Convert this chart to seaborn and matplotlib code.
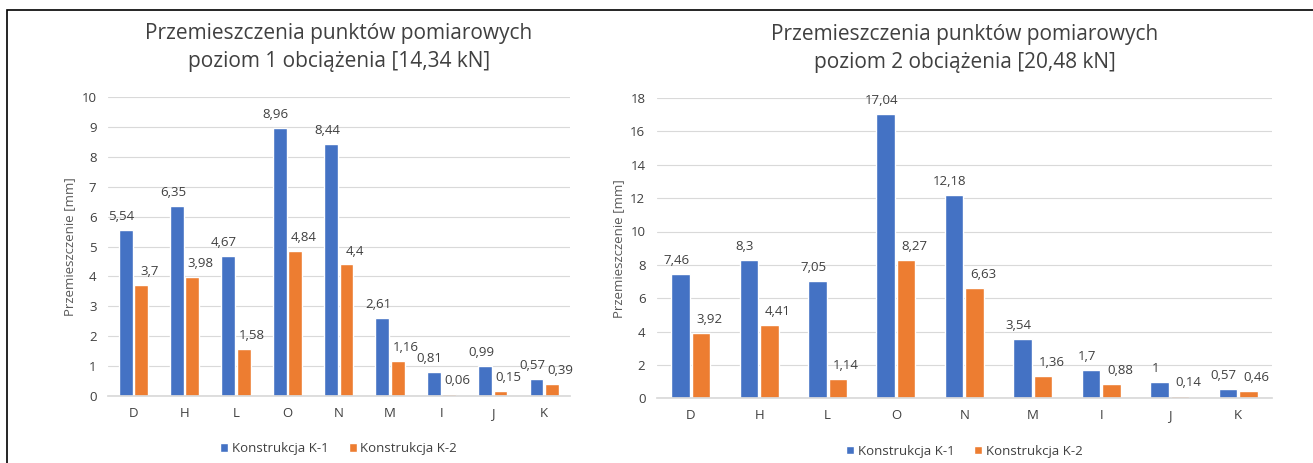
import matplotlib
matplotlib.use("Agg")
import matplotlib.pyplot as plt
from matplotlib.patches import Rectangle, Patch
import pandas as pd
import seaborn as sns

# punkty pomiarowe
punkty = ["D", "H", "L", "O", "N", "M", "I", "J", "K"]
serie = ["Konstrukcja K-1", "Konstrukcja K-2"]

# poziom 1 obciazenia [14,34 kN]
p1_k1 = [5.54, 6.35, 4.67, 8.96, 8.44, 2.61, 0.81, 0.99, 0.57]
p1_k2 = [3.7, 3.98, 1.58, 4.84, 4.4, 1.16, 0.06, 0.15, 0.39]

# poziom 2 obciazenia [20,48 kN]
p2_k1 = [7.46, 8.3, 7.05, 17.04, 12.18, 3.54, 1.7, 1, 0.57]
p2_k2 = [3.92, 4.41, 1.14, 8.27, 6.63, 1.36, 0.88, 0.14, 0.46]

tytuly = [
    "Przemieszczenia punktów pomiarowych\npoziom 1 obciążenia [14,34 kN]",
    "Przemieszczenia punktów pomiarowych\npoziom 2 obciążenia [20,48 kN]",
]
y_max = [10, 18]
y_step = [1, 2]

kolory = ["#4472C4", "#ED7D31"]
szary = "#404040"


def do_ramki(k1, k2):
    return pd.DataFrame({
        "punkt": punkty * 2,
        "wartosc": k1 + k2,
        "seria": [serie[0]] * len(punkty) + [serie[1]] * len(punkty),
    })


def fmt(v):
    return f"{v:g}".replace(".", ",")


sns.set_theme(style="white")
plt.rcParams["font.family"] = ["Open Sans", "DejaVu Sans"]

fig = plt.figure(figsize=(13.13, 4.63), dpi=100)
axes = [
    fig.add_axes([0.082, 0.145, 0.352, 0.645]),
    fig.add_axes([0.500, 0.140, 0.469, 0.648]),
]

dane = [do_ramki(p1_k1, p1_k2), do_ramki(p2_k1, p2_k2)]

for ax, df, tytul, ym, ys in zip(axes, dane, tytuly, y_max, y_step):
    sns.barplot(data=df, x="punkt", y="wartosc", hue="seria", order=punkty,
                hue_order=serie, palette=kolory, width=0.6, gap=0.1,
                saturation=1, ax=ax, legend=False)
    # etykiety: K-1 lekko w lewo, K-2 przesuniete w prawo (jak w Excelu)
    for cont, dx in zip(ax.containers, [-3, 6]):
        teksty = ax.bar_label(cont, labels=[fmt(v) for v in cont.datavalues],
                              padding=4, fontsize=9.5, color=szary)
        for t in teksty:
            t.xyann = (dx, 5)
    ax.set_ylim(0, ym)
    ax.set_yticks(range(0, ym + 1, ys))
    ax.grid(axis="y", color="#d9d9d9", linewidth=0.8)
    ax.set_axisbelow(True)
    for s in ["top", "right", "left"]:
        ax.spines[s].set_visible(False)
    ax.spines["bottom"].set_color("#d9d9d9")
    ax.tick_params(axis="both", labelsize=9.5, colors=szary, length=0, pad=8)
    ax.set_xlabel("")
    ax.set_ylabel("Przemieszczenie [mm]", fontsize=9.5, color="#595959")
    ax.set_title(tytul, fontsize=15, color=szary, pad=22, linespacing=1.4)
    uchwyty = [Patch(facecolor=c) for c in kolory]
    ax.legend(uchwyty, serie, loc="upper center", bbox_to_anchor=(0.5, -0.115),
              ncol=2, frameon=False, fontsize=9.5, handlelength=0.6,
              handleheight=0.6, handletextpad=0.3, columnspacing=1.5,
              labelcolor=szary)

# ramka wokol rysunku
fig.add_artist(Rectangle((0.0053, -0.5), 1.5, 0.978 + 0.5, fill=False,
                         edgecolor="black", linewidth=1.2,
                         transform=fig.transFigure))

fig.savefig("out.png", dpi=100, facecolor="white")
